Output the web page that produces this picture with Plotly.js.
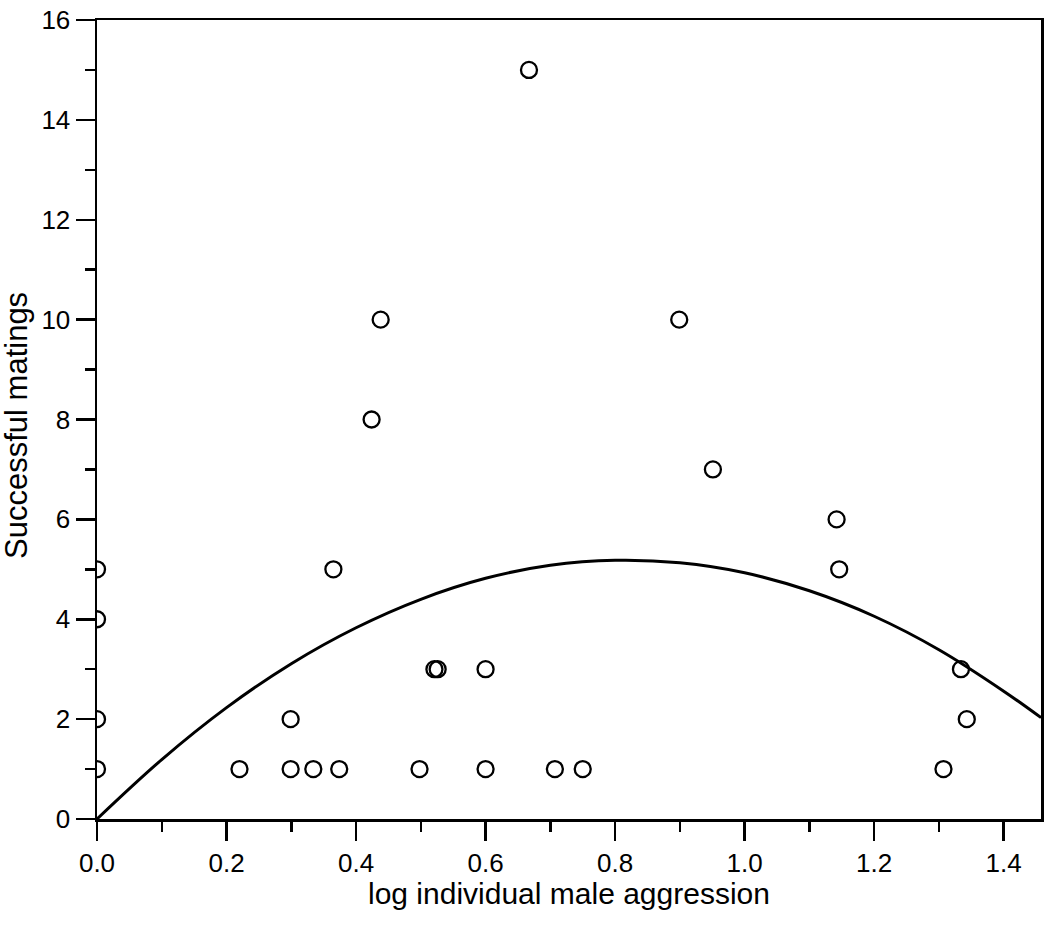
<!DOCTYPE html>
<html>
<head>
<meta charset="utf-8">
<script src="https://cdn.plot.ly/plotly-3.0.1.min.js"></script>
<style>
  html, body { margin: 0; padding: 0; background: #ffffff; }
  #chart { width: 1050px; height: 936px; }
</style>
</head>
<body>
<div id="chart"></div>
<script>
// Observed data points (log individual male aggression vs successful matings)
const aggression = [0, 0, 0, 0, 0.220, 0.299, 0.299, 0.334, 0.374, 0.365, 0.424, 0.438,
                    0.498, 0.521, 0.526, 0.600, 0.600, 0.667, 0.707, 0.750, 0.899, 0.951,
                    1.142, 1.146, 1.307, 1.334, 1.343];
const matings    = [5, 4, 2, 1, 1, 2, 1, 1, 1, 5, 8, 10,
                    1, 3, 3, 3, 1, 15, 1, 1, 10, 7,
                    6, 5, 1, 3, 2];

// Fitted curve
const curveX = [0, 0.1, 0.2, 0.3, 0.4, 0.5, 0.6, 0.7, 0.8, 0.9, 1.0, 1.1, 1.2, 1.3, 1.4, 1.4576];
const curveY = [0, 1.19, 2.23, 3.11, 3.83, 4.40, 4.82, 5.08, 5.18, 5.13, 4.93, 4.57, 4.06, 3.39, 2.56, 2.03];

// Axis tick labels and titles
const xTicks = [0, 0.2, 0.4, 0.6, 0.8, 1.0, 1.2, 1.4];
const xTickText = ['0.0', '0.2', '0.4', '0.6', '0.8', '1.0', '1.2', '1.4'];
const yTicks = [0, 2, 4, 6, 8, 10, 12, 14, 16];
const xTitle = 'log individual male aggression';
const yTitle = 'Successful matings';

const font = 'Liberation Sans, Arial, sans-serif';

const traces = [
  {
    x: curveX, y: curveY,
    type: 'scatter', mode: 'lines',
    line: { color: '#000000', width: 3, shape: 'spline', smoothing: 1 },
    hoverinfo: 'skip', showlegend: false
  },
  {
    x: aggression, y: matings,
    type: 'scatter', mode: 'markers',
    marker: { symbol: 'circle-open', size: 16, color: '#000000', line: { color: '#000000', width: 2.3 } },
    showlegend: false
  }
];

const layout = {
  width: 1050, height: 936,
  paper_bgcolor: '#ffffff', plot_bgcolor: '#ffffff',
  margin: { l: 97, r: 9, t: 20, b: 117, pad: 0 },
  font: { family: font, color: '#000000', size: 26 },
  showlegend: false,
  xaxis: {
    range: [0, 1.4576],
    tickvals: xTicks, ticktext: xTickText,
    ticks: 'outside', ticklen: 19, tickwidth: 2.5, tickcolor: '#000000',
    minor: { dtick: 0.1, tick0: 0, ticks: 'outside', ticklen: 10, tickwidth: 2.5, tickcolor: '#000000', showgrid: false },
    showline: true, linecolor: '#000000', linewidth: 2.5, mirror: true,
    showgrid: false, zeroline: false,
    tickfont: { family: font, size: 26, color: '#000000' }
  },
  yaxis: {
    range: [0, 16],
    tickvals: yTicks,
    ticks: 'outside', ticklen: 19, tickwidth: 2.5, tickcolor: '#000000',
    minor: { dtick: 1, tick0: 0, ticks: 'outside', ticklen: 10, tickwidth: 2.5, tickcolor: '#000000', showgrid: false },
    showline: true, linecolor: '#000000', linewidth: 2.5, mirror: true,
    showgrid: false, zeroline: false,
    tickfont: { family: font, size: 26, color: '#000000' }
  },
  annotations: [
    {
      text: xTitle, xref: 'paper', yref: 'paper',
      x: 0.5, y: -0.0935, xanchor: 'center', yanchor: 'middle',
      showarrow: false, font: { family: font, size: 30, color: '#000000' }
    },
    {
      text: yTitle, xref: 'paper', yref: 'paper', textangle: -90,
      x: -0.0847, y: 0.492, xanchor: 'center', yanchor: 'middle',
      showarrow: false, font: { family: font, size: 31, color: '#000000' }
    }
  ]
};

Plotly.newPlot('chart', traces, layout, { displayModeBar: false, staticPlot: true });
</script>
</body>
</html>
